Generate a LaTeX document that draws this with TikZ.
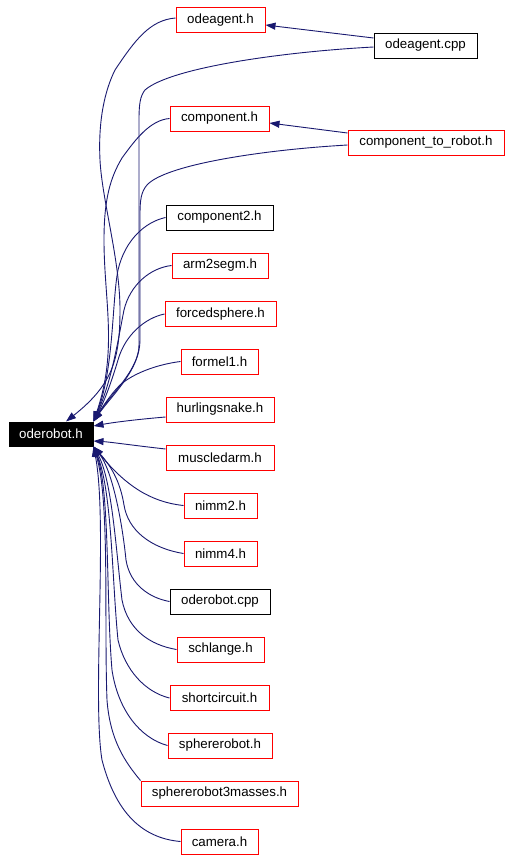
\documentclass[tikz,border=0pt]{standalone}
\usepackage{fontspec}
\setmainfont{Liberation Sans}
\usetikzlibrary{arrows.meta,calc}
\definecolor{edgecol}{HTML}{191970}
\definecolor{boxred}{HTML}{FF0000}
\tikzset{
  filebox/.style={draw=boxred, line width=1pt, inner sep=0pt, minimum height=25pt, font=\fontsize{13.3}{15}\selectfont},
  blackbox/.style={filebox, draw=black},
  rootbox/.style={filebox, draw=black, fill=black, text=white, minimum height=24pt},
  depline/.style={draw=edgecol, line width=0.9pt, -{Triangle[length=10pt,width=7pt]}}
}
\begin{document}
\begin{tikzpicture}[x=1pt,y=-1pt]
\useasboundingbox (0,0) rectangle (511,860);
\fill[white] (0,0) rectangle (511,860);
% nodes
\node[rootbox, minimum width=84pt] (ode) at (51,434) {oderobot.h};
\node[filebox, minimum width=89pt] (oah) at (220.5,20) {odeagent.h};
\node[blackbox, minimum width=103pt] (oac) at (425.5,45.5) {odeagent.cpp};
\node[filebox, minimum width=99pt] (comp) at (219.5,118.5) {component.h};
\node[filebox, minimum width=156pt] (ctr) at (426,142.5) {component\_to\_robot.h};
\node[blackbox, minimum width=107pt] (comp2) at (219.5,217.5) {component2.h};
\node[filebox, minimum width=96pt] (arm) at (220,265.5) {arm2segm.h};
\node[filebox, minimum width=111pt] (forced) at (220.5,314) {forcedsphere.h};
\node[filebox, minimum width=77pt] (formel) at (219.5,361.5) {formel1.h};
\node[filebox, minimum width=108pt] (hurl) at (220,409.5) {hurlingsnake.h};
\node[filebox, minimum width=108pt] (muscle) at (220,457.5) {muscledarm.h};
\node[filebox, minimum width=73pt] (nimmA) at (220.5,505.5) {nimm2.h};
\node[filebox, minimum width=73pt] (nimmB) at (220.5,553.5) {nimm4.h};
\node[blackbox, minimum width=100pt] (odecpp) at (220,601.5) {oderobot.cpp};
\node[filebox, minimum width=87pt] (schl) at (220.5,649.5) {schlange.h};
\node[filebox, minimum width=99pt] (shortc) at (219.5,698) {shortcircuit.h};
\node[filebox, minimum width=104pt] (sphr) at (220,745.5) {sphererobot.h};
\node[filebox, minimum width=157pt] (sphrm) at (219.5,793.5) {sphererobot3masses.h};
\node[filebox, minimum width=77pt] (cam) at (219.5,841.5) {camera.h};
% edges between upper files
\draw[depline] ($(oac.west)+(0,-7.5)$) -- ($(oah.east)+(0,5)$);
\draw[depline] ($(ctr.west)+(0,-9.5)$) -- ($(comp.east)+(0,4.5)$);
% edges to oderobot.h
\draw[depline] ($(oah.west)+(0,-2)$) .. controls (150,20) and (135,40) .. (115,70)
   .. controls (105,90) and (98,120) .. (100,160)
   .. controls (102,200) and (120,260) .. (120,310)
   .. controls (120,360) and (112,385) .. ($(ode.north)+(15,0)$);
\draw[depline] ($(oac.west)+(0,1.5)$) .. controls (280,52) and (170,68) .. (145,90)
   .. controls (140,96) and (139,105) .. (139,120) -- (139,345)
   .. controls (139,370) and (110,395) .. (ode.north east);
\draw[depline] (comp.west) .. controls (150,120) and (135,140) .. (122,158)
   .. controls (110,178) and (104,200) .. (104,240)
   .. controls (104,300) and (118,350) .. (ode.north east);
\draw[depline] ($(ctr.west)+(0,2.5)$) .. controls (260,150) and (165,165) .. (147,185)
   .. controls (141,192) and (140,200) .. (140,215) -- (140,340)
   .. controls (140,370) and (112,395) .. (ode.north east);
\draw[depline] (comp2.west) .. controls (145,222) and (125,240) .. (118,270)
   .. controls (112,300) and (114,370) .. (ode.north east);
\draw[depline] (arm.west) .. controls (150,268) and (130,285) .. (124,310)
   .. controls (118,340) and (112,380) .. (ode.north east);
\draw[depline] (forced.west) .. controls (145,318) and (125,335) .. (118,360)
   .. controls (112,380) and (105,400) .. (ode.north east);
\draw[depline] (formel.west) .. controls (160,364) and (135,372) .. (120,385)
   .. controls (110,395) and (102,408) .. (ode.north east);
\draw[depline] ($(hurl.west)+(0,7.5)$) .. controls (130,420) and (110,423) .. ($(ode.east)+(0,-8)$);
\draw[depline] ($(muscle.west)+(0,-8.5)$) .. controls (130,445) and (110,442) .. ($(ode.east)+(0,7)$);
\draw[depline] (nimmA.west) .. controls (150,502) and (125,485) .. (ode.south east);
\draw[depline] (nimmB.west) .. controls (150,548) and (128,530) .. (124,505)
   .. controls (120,480) and (110,465) .. (ode.south east);
\draw[depline] (odecpp.west) .. controls (150,598) and (130,585) .. (126,560)
   .. controls (122,520) and (112,470) .. (ode.south east);
\draw[depline] (schl.west) .. controls (150,645) and (128,630) .. (122,600)
   .. controls (116,550) and (112,480) .. (ode.south east);
\draw[depline] (shortc.west) .. controls (145,692) and (125,670) .. (118,640)
   .. controls (112,580) and (112,490) .. (ode.south east);
\draw[depline] (sphr.west) .. controls (140,738) and (118,710) .. (112,670)
   .. controls (106,600) and (110,490) .. (ode.south east);
\draw[depline] (sphrm.north west) .. controls (125,762) and (110,740) .. (107,700)
   .. controls (104,620) and (110,500) .. (ode.south east);
\draw[depline] (cam.west) .. controls (140,838) and (115,810) .. (102,760)
   .. controls (92,700) and (108,520) .. (ode.south east);
\end{tikzpicture}
\end{document}
